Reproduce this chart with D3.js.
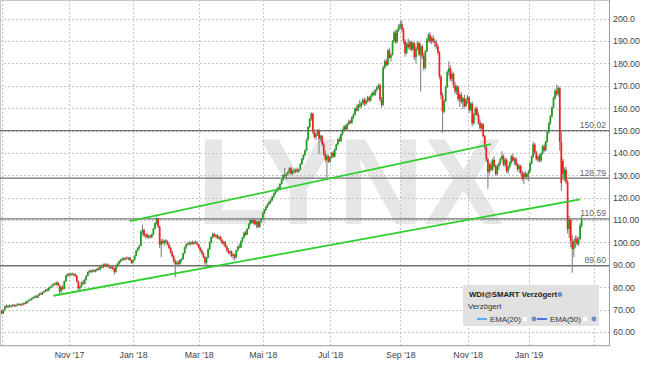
<!DOCTYPE html>
<head>
<meta charset="UTF-8">
<script src="https://d3js.org/d3.v7.min.js"></script>
<style>
  body { margin: 0; background: #fff; }
  text { font-family: "Liberation Sans", Arial, sans-serif; }
</style>
</head>
<body>
<div id="chart"></div>
<script>
// daily candles [open, high, low, close], one per trading day from 2017-09-01
const ohlc = [
  // Sep 2017
  [69.5,70.0,67.8,68.3],[68.4,70.2,68.0,69.8],[70.0,71.8,69.6,71.5],[71.4,72.3,70.8,71.2],[71.2,72.0,70.6,71.8],
  [71.8,72.4,71.0,71.3],[71.3,72.0,70.9,71.7],[71.7,72.5,71.2,72.1],[72.0,72.6,71.3,71.6],[71.6,72.3,71.1,72.0],
  [72.0,72.8,71.6,72.4],[72.4,72.9,71.8,72.1],[72.1,72.7,71.5,72.5],[72.4,73.0,72.0,72.3],[72.3,73.2,72.0,73.0],
  [73.0,73.6,72.4,72.8],[72.8,74.0,72.5,73.8],[73.8,74.5,73.2,74.2],[74.2,75.0,73.8,74.6],[74.6,75.3,74.0,74.9],
  [74.9,75.8,74.5,75.5],
  // Oct 2017
  [75.5,76.3,75.0,75.9],[75.9,76.5,75.2,75.4],[75.4,76.6,75.1,76.3],[76.3,77.4,76.0,77.1],[77.1,77.8,76.5,76.8],
  [76.8,78.0,76.5,77.8],[77.8,78.6,77.2,78.3],[78.3,79.2,77.9,78.9],[78.9,79.5,78.0,78.5],[78.5,80.0,78.2,79.7],
  [79.7,80.6,79.2,80.3],[80.3,81.2,79.8,80.9],[80.9,81.8,80.4,81.5],[81.5,82.3,80.9,81.2],[81.2,82.5,80.8,82.1],
  [82.1,82.6,80.5,80.9],[80.9,81.2,77.0,78.2],[78.2,80.5,77.5,80.0],[80.0,81.0,78.8,79.2],[79.2,83.0,79.0,82.6],
  [82.6,85.5,82.3,85.2],[85.2,86.3,84.6,85.8],
  // Nov 2017
  [85.8,86.5,85.0,85.4],[85.4,86.4,84.9,86.0],[86.0,86.7,85.2,85.6],[85.6,86.2,84.8,85.9],[85.9,86.4,84.6,85.1],
  [85.1,85.5,82.0,82.6],[82.6,83.0,78.8,79.5],[79.5,80.8,78.5,80.4],[80.4,82.5,80.0,82.2],[82.2,83.2,81.0,81.6],
  [81.6,83.8,81.3,83.4],[83.4,85.4,83.0,85.1],[85.1,87.0,84.8,86.8],[86.8,87.8,86.0,87.3],[87.3,88.0,86.4,86.9],
  [86.9,87.9,86.5,87.6],[87.6,88.2,86.8,87.1],[87.1,88.0,86.6,87.7],[87.7,88.6,87.2,88.3],[88.3,89.0,87.5,87.9],
  [87.9,89.6,87.6,89.3],[89.3,90.2,88.6,89.0],
  // Dec 2017
  [89.0,90.6,88.5,90.2],[90.2,90.8,89.0,89.4],[89.4,90.5,88.8,90.1],[90.1,90.7,88.9,89.2],[89.2,90.0,88.2,88.6],
  [88.6,89.5,87.9,89.1],[89.1,89.6,87.8,88.2],[88.2,88.8,85.6,86.9],[86.9,89.5,86.5,89.2],[89.2,90.8,88.8,90.5],
  [90.5,92.0,90.1,91.6],[91.6,92.6,91.0,92.3],[92.3,93.2,91.6,92.8],[92.8,93.5,92.0,92.4],[92.4,93.4,91.9,93.1],
  [93.1,93.8,92.5,92.7],[92.7,93.5,92.2,93.2],[93.2,93.6,91.8,92.0],[92.0,92.4,90.4,90.9],
  // Jan 2018
  [91.0,92.5,90.5,92.2],[92.2,94.5,92.0,94.1],[94.1,96.8,93.8,96.5],[96.5,98.0,95.9,97.6],[97.6,99.0,97.0,98.6],
  [98.6,105.5,98.3,104.8],[104.8,108.0,103.5,105.6],[105.6,106.3,102.4,103.1],[103.1,104.0,101.8,103.5],[103.5,104.2,101.9,102.3],
  [102.3,103.5,101.6,103.0],[103.0,103.6,101.8,102.4],[102.4,104.0,102.0,103.6],[103.6,106.5,103.2,106.2],[106.2,109.0,105.8,108.6],
  [108.6,111.5,108.0,110.8],[110.8,111.0,106.5,107.2],[107.2,107.6,97.5,99.0],[99.0,101.5,93.4,100.6],[100.6,101.8,99.2,99.8],
  [99.8,101.2,98.5,100.9],[100.9,101.5,99.3,100.2],
  // Feb 2018
  [100.2,101.0,98.6,99.1],[99.1,100.0,97.0,97.6],[97.6,98.2,95.0,95.5],[95.5,96.5,93.2,93.8],[93.8,94.5,91.0,91.6],
  [91.6,92.5,84.5,90.3],[90.3,92.0,89.5,91.0],[91.0,91.8,89.6,90.4],[90.4,92.6,90.0,92.2],[92.2,93.0,91.2,92.6],
  [92.6,95.5,92.3,95.2],[95.2,98.2,94.8,97.9],[97.9,99.6,97.2,99.2],[99.2,100.3,98.5,99.6],[99.6,100.6,98.8,99.3],
  [99.3,100.4,98.7,100.1],[100.1,100.8,99.0,99.5],[99.5,100.6,98.9,100.2],[100.2,100.9,99.4,99.8],[99.8,100.5,98.6,99.0],
  // Mar 2018
  [99.0,99.6,97.2,97.6],[97.6,98.2,95.8,96.3],[96.3,97.0,94.5,95.0],[95.0,95.6,92.8,93.4],[93.4,94.0,90.2,91.0],
  [91.0,93.6,88.8,93.2],[93.2,97.5,93.0,97.0],[97.0,100.5,96.6,100.1],[100.1,102.8,99.6,102.4],[102.4,104.5,101.8,103.8],
  [103.8,104.3,102.2,102.7],[102.7,103.8,101.9,103.2],[103.2,103.7,101.5,101.9],[101.9,103.0,101.2,102.5],[102.5,103.0,100.5,101.0],
  [101.0,101.8,99.2,99.6],[99.6,100.8,98.6,100.3],[100.3,100.7,97.6,98.1],[98.1,99.0,96.0,96.5],[96.5,97.5,94.8,95.3],
  [95.3,96.4,94.2,96.0],
  // Apr 2018
  [96.0,96.5,93.4,94.0],[94.0,95.2,92.6,94.6],[94.6,95.0,91.8,93.3],[93.3,96.8,93.0,96.4],[96.4,98.6,96.0,98.2],
  [98.2,99.5,97.3,97.8],[97.8,101.0,97.5,100.6],[100.6,102.6,100.0,102.2],[102.2,104.8,101.8,104.4],[104.4,105.2,103.0,103.6],
  [103.6,106.5,103.2,106.1],[106.1,108.7,105.8,108.3],[108.3,110.6,107.8,110.0],[110.0,110.8,108.4,108.9],[108.9,110.5,108.2,109.9],
  [109.9,110.4,107.6,108.1],[108.1,109.6,106.4,109.2],[109.2,110.0,106.5,107.0],[107.0,109.8,106.6,109.5],[109.5,111.0,108.8,110.6],
  // May 2018
  [110.6,113.5,110.2,113.1],[113.1,115.0,112.6,114.6],[114.6,116.4,114.0,116.0],[116.0,117.5,115.4,117.1],[117.1,118.6,116.5,118.2],
  [118.2,119.4,117.3,118.9],[118.9,120.8,118.4,120.4],[120.4,122.2,119.8,121.9],[121.9,123.4,121.2,122.8],[122.8,124.6,122.3,124.2],
  [124.2,125.0,122.9,123.5],[123.5,126.6,123.2,126.2],[126.2,128.4,125.8,128.0],[128.0,130.5,127.5,130.1],[130.1,133.4,129.0,129.6],
  [129.6,131.0,128.2,130.6],[130.6,132.0,129.8,131.5],[131.5,133.6,131.0,133.2],[133.2,134.0,130.0,130.7],[130.7,132.5,130.2,132.0],
  [132.0,133.2,131.0,131.6],[131.6,133.0,130.8,132.6],
  // Jun 2018
  [132.6,133.5,131.2,131.8],[131.8,133.0,131.0,132.5],[132.5,135.5,132.2,135.0],[135.0,137.8,134.6,137.4],[137.4,139.5,136.8,139.1],
  [139.1,141.6,138.5,141.2],[141.2,146.5,140.8,146.0],[146.0,152.0,145.6,151.6],[151.6,155.6,151.0,155.2],[155.2,158.2,154.4,157.6],
  [157.6,158.0,148.5,149.4],[149.4,150.6,146.5,147.2],[147.2,149.0,145.8,148.5],[148.5,150.6,147.6,150.1],[150.1,150.8,139.5,146.4],
  [146.4,148.2,145.0,147.5],[147.5,148.0,143.0,143.8],[143.8,145.0,138.6,139.4],[139.4,141.2,136.0,137.0],[137.0,139.8,128.8,138.6],
  [138.6,139.2,135.6,136.2],
  // Jul 2018
  [136.2,138.5,135.4,138.0],[138.0,140.4,137.5,140.1],[140.1,141.0,137.8,138.4],[138.4,142.0,138.0,141.6],[141.6,144.2,141.0,143.8],
  [143.8,146.5,143.2,146.1],[146.1,147.2,144.8,145.3],[145.3,148.8,145.0,148.4],[148.4,150.8,147.8,150.3],[150.3,152.4,149.6,151.9],
  [151.9,152.6,150.0,150.6],[150.6,153.4,150.2,153.0],[153.0,154.8,152.4,154.2],[154.2,155.0,152.8,153.5],[153.5,156.4,153.0,156.0],
  [156.0,157.8,155.2,157.2],[157.2,160.4,156.8,159.8],[159.8,161.2,158.5,159.0],[159.0,162.0,158.6,161.6],[161.6,163.8,160.2,160.8],
  [160.8,163.0,160.0,162.5],[162.5,164.5,161.4,163.8],
  // Aug 2018
  [163.8,164.8,161.0,162.0],[162.0,164.0,161.2,163.4],[163.4,165.6,162.5,164.8],[164.8,165.4,162.8,163.5],[163.5,166.0,163.0,165.6],
  [165.6,167.4,165.0,166.8],[166.8,168.0,165.4,166.0],[166.0,168.6,165.6,168.2],[168.2,170.0,167.4,169.4],[169.4,171.0,168.6,170.2],
  [170.2,171.2,163.0,164.0],[164.0,165.0,160.2,161.5],[161.5,179.0,161.0,178.2],[178.2,181.8,177.5,180.9],[180.9,182.0,178.6,179.4],
  [179.4,186.5,179.0,185.8],[185.8,187.0,182.0,182.6],[182.6,184.5,181.0,183.9],[183.9,190.5,183.5,190.0],[190.0,194.6,189.4,193.8],
  [193.8,194.8,188.8,189.5],[189.5,195.5,189.0,195.0],[195.0,197.6,194.2,196.8],
  // Sep 2018
  [196.8,199.0,195.5,197.5],[197.5,199.2,194.0,195.2],[195.2,196.0,188.6,190.0],[190.0,190.8,183.0,184.6],[184.6,189.5,184.0,188.8],
  [188.8,191.2,186.5,187.2],[187.2,190.4,186.0,189.6],[189.6,190.2,185.4,186.2],[186.2,189.8,185.8,189.0],[189.0,189.6,181.5,182.8],
  [182.8,187.4,180.0,186.5],[186.5,190.0,185.8,189.2],[189.2,189.8,183.2,184.0],[184.0,188.8,167.5,187.6],[187.6,188.4,182.0,183.2],
  [183.2,184.6,176.8,178.0],[178.0,186.0,177.4,185.4],[185.4,191.5,185.0,190.8],[190.8,193.6,189.6,192.8],[192.8,194.0,189.0,189.8],
  // Oct 2018
  [189.8,192.0,188.6,191.4],[191.4,192.6,189.2,190.0],[190.0,191.0,187.2,189.2],[189.2,190.4,186.5,187.6],[187.6,188.8,184.0,185.0],
  [185.0,185.6,173.0,174.2],[174.2,175.0,164.0,165.8],[165.8,167.0,149.0,158.5],[158.5,164.0,157.6,163.2],[163.2,170.0,162.8,169.4],
  [169.4,177.0,169.0,176.2],[176.2,181.0,174.6,177.8],[177.8,179.2,172.0,173.0],[173.0,176.4,171.8,175.4],[175.4,176.0,169.0,170.2],
  [170.2,171.8,166.4,167.5],[167.5,170.4,166.0,169.6],[169.6,170.2,163.0,164.0],[164.0,166.8,160.5,166.0],[166.0,167.2,162.0,162.8],
  [162.8,165.0,159.6,164.4],[164.4,166.0,160.2,161.0],[161.0,164.6,160.6,163.8],
  // Nov 2018
  [163.8,166.0,162.0,164.8],[164.8,165.5,158.0,159.2],[159.2,162.8,158.6,162.0],[162.0,163.0,151.8,153.2],[153.2,158.0,152.6,157.4],
  [157.4,160.5,156.8,159.8],[159.8,161.0,156.2,157.0],[157.0,158.2,152.6,153.4],[153.4,155.0,150.0,151.2],[151.2,153.6,150.4,152.8],
  [152.8,153.4,146.8,147.6],[147.6,148.2,141.5,142.6],[142.6,143.8,136.0,137.2],[137.2,138.0,124.0,131.5],[131.5,135.6,130.5,134.8],
  [134.8,136.4,131.8,132.6],[132.6,137.5,132.0,136.9],[136.9,138.6,133.5,134.2],[134.2,135.0,129.8,130.6],[130.6,134.8,130.0,134.0],
  [134.0,136.0,132.4,135.2],[135.2,138.0,134.6,137.4],
  // Dec 2018
  [137.4,140.8,136.6,138.6],[138.6,139.4,134.0,134.8],[134.8,137.8,133.6,137.0],[137.0,137.6,131.0,131.8],[131.8,134.5,130.6,133.9],
  [133.9,136.4,133.0,135.8],[135.8,139.2,135.0,138.4],[138.4,139.6,136.0,136.6],[136.6,138.0,134.6,137.4],[137.4,138.2,134.0,134.8],
  [134.8,135.6,132.0,132.8],[132.8,135.0,131.2,134.2],[134.2,134.8,130.4,131.0],[131.0,132.2,127.6,128.4],[128.4,131.6,126.0,130.8],
  [130.8,132.0,128.6,129.4],[129.4,131.2,128.0,130.6],
  // Jan 2019
  [130.6,132.4,127.6,131.8],[131.8,136.0,131.2,135.4],[135.4,139.0,134.8,138.2],[138.2,145.0,137.6,143.8],[143.8,144.6,139.4,140.2],
  [140.2,141.0,136.6,137.2],[137.2,139.0,136.0,138.4],[138.4,139.6,135.8,136.6],[136.6,140.2,136.0,139.8],[139.8,143.6,139.2,143.0],
  [143.0,144.2,140.4,141.2],[141.2,145.6,140.8,145.0],[145.0,149.8,144.6,149.2],[149.2,153.8,148.6,153.2],[153.2,157.0,152.6,156.4],
  [156.4,161.0,155.8,160.4],[160.4,165.2,159.8,164.6],[164.6,168.6,163.8,167.8],[167.8,170.6,165.6,166.4],[166.4,170.0,165.2,169.0],
  [169.0,169.6,141.0,145.0],[145.0,150.4,123.0,126.5],
  // Feb 2019
  [136.5,137.5,128.0,130.5],[129.0,133.5,127.5,132.4],[132.4,134.0,126.0,127.0],[127.0,128.0,104.0,106.0],[106.0,112.0,102.0,110.5],
  [110.0,110.8,98.0,100.5],[100.5,103.5,86.5,97.2],[97.0,101.5,93.5,100.6],[100.6,103.0,97.6,101.8],[101.8,103.0,98.6,99.4],
  [99.4,102.4,98.4,101.2],[101.5,108.6,101.0,107.6],[107.4,112.0,106.6,110.6]
];

const firstDay = "2017-09-01";
const lastAxisDay = "2019-03-29";
const holidays = ["2017-12-25", "2017-12-26", "2018-01-01", "2018-03-30", "2018-04-02", "2018-05-01",
  "2018-12-24", "2018-12-25", "2018-12-26", "2018-12-31", "2019-01-01"];
const monthNames = ["Jan", "Feb", "Mar", "Apr", "Mai", "Jun", "Jul", "Aug", "Sep", "Okt", "Nov", "Dez"];
const yTicks = [60, 70, 80, 90, 100, 110, 120, 130, 140, 150, 160, 170, 180, 190, 200];
const levels = [150.02, 128.79, 110.59, 89.60];
// trend lines: [date, price] start and end
const trendLines = [
  [["2017-12-28", 109.6], ["2018-11-22", 144.0]],
  [["2017-10-18", 76.2], ["2019-02-18", 119.3]]
];
const legendTitle = "WDI@SMART Verzögert";
const legendSub = "Verzögert";
const legendItems = [{ name: "EMA(20)", color: "#2196f3" }, { name: "EMA(50)", color: "#1a3fd6" }];

const width = 645, height = 365;
const plotR = 609, plotB = 345.7;

const parse = d3.utcParse("%Y-%m-%d");
const fmt = d3.utcFormat("%Y-%m-%d");
const hol = new Set(holidays);
const days = d3.utcDays(parse(firstDay), d3.utcDay.offset(parse(lastAxisDay), 1))
  .filter(d => d.getUTCDay() % 6 !== 0 && !hol.has(fmt(d)));
const dayIndex = new Map(days.map((d, i) => [fmt(d), i]));

const x = d3.scaleLinear().domain([-1.15, 388.5]).range([0, plotR]);
const y = d3.scaleLinear().domain([53.88, 208.36]).range([plotB, 0]);

const svg = d3.select("#chart").append("svg")
  .attr("width", width)
  .attr("height", height)
  .style("display", "block");

// watermark
svg.append("text")
  .attr("x", 197).attr("y", 224)
  .attr("textLength", 306).attr("lengthAdjust", "spacingAndGlyphs")
  .attr("font-size", 122).attr("font-weight", "bold")
  .attr("fill", "#e6e6e6")
  .text("LYNX");

// month ticks: first trading day of Jan, Mar, May, ...
const monthTicks = days.map((d, i) => i)
  .filter(i => (i === 0 || days[i].getUTCMonth() !== days[i - 1].getUTCMonth()) && days[i].getUTCMonth() % 2 === 0)
  .filter(i => x(i) < plotR);

const grid = svg.append("g").attr("stroke", "#c4c4c4").attr("stroke-dasharray", "2,2").attr("stroke-width", 1);
grid.selectAll(".gy").data(yTicks).join("line")
  .attr("x1", 0).attr("x2", plotR)
  .attr("y1", d => Math.round(y(d)) + 0.5).attr("y2", d => Math.round(y(d)) + 0.5);
grid.selectAll(".gx").data(monthTicks).join("line")
  .attr("y1", 0).attr("y2", plotB)
  .attr("x1", d => Math.round(x(d)) + 0.5).attr("x2", d => Math.round(x(d)) + 0.5);

// frame top / left
svg.append("path").attr("d", `M0.5,${plotB}V0.5H${plotR}`).attr("fill", "none").attr("stroke", "#c8c8c8");

// horizontal levels
const lv = svg.append("g");
lv.selectAll("line").data(levels).join("line")
  .attr("x1", 0).attr("x2", plotR)
  .attr("y1", d => y(d)).attr("y2", d => y(d))
  .attr("stroke", "#707070").attr("stroke-width", 1.3);
lv.selectAll("text").data(levels).join("text")
  .attr("x", 606).attr("y", d => y(d) - 2.5)
  .attr("text-anchor", "end")
  .attr("font-size", 8.6).attr("fill", "#666")
  .text(d => d3.format(".2f")(d));

// candles
const bw = 1.7;
const cg = svg.append("g");
cg.selectAll(".wick").data(ohlc).join("line")
  .attr("x1", (d, i) => x(i)).attr("x2", (d, i) => x(i))
  .attr("y1", d => y(d[1])).attr("y2", d => y(d[2]))
  .attr("stroke", "#858585").attr("stroke-width", 1.1);
cg.selectAll(".body").data(ohlc).join("rect")
  .attr("x", (d, i) => x(i) - bw / 2)
  .attr("width", bw)
  .attr("y", d => y(Math.max(d[0], d[3])))
  .attr("height", d => Math.max(1, Math.abs(y(d[0]) - y(d[3]))))
  .attr("fill", d => d[3] >= d[0] ? "#16a316" : "#ff1c1c");

// trend lines
svg.append("g").selectAll("line").data(trendLines).join("line")
  .attr("x1", d => x(dayIndex.get(d[0][0]))).attr("y1", d => y(d[0][1]))
  .attr("x2", d => x(dayIndex.get(d[1][0]))).attr("y2", d => y(d[1][1]))
  .attr("stroke", "#2ed02e").attr("stroke-width", 1.8);

// axes
const yAxis = svg.append("g")
  .attr("transform", `translate(${plotR + 0.5},0)`)
  .call(d3.axisRight(y).tickValues(yTicks).tickSize(0).tickPadding(3.5)
    .tickFormat(v => v === 200 ? "200.0" : d3.format(".2f")(v)));
yAxis.select(".domain").attr("stroke", "#9a9a9a").attr("d", `M0,0V${plotB}`);
yAxis.selectAll("text").attr("font-size", 8.8).attr("fill", "#444").attr("font-family", null);

const xAxis = svg.append("g")
  .attr("transform", `translate(0,${plotB})`)
  .call(d3.axisBottom(x).tickValues(monthTicks.filter(i => x(i) > 30 && x(i) < 580)).tickSize(0).tickPadding(6)
    .tickFormat(i => monthNames[days[i].getUTCMonth()] + " '" + String(days[i].getUTCFullYear()).slice(2)));
xAxis.select(".domain").attr("stroke", "#9a9a9a").attr("d", `M0,0H${plotR + 0.5}`);
xAxis.selectAll("text").attr("font-size", 8.8).attr("fill", "#444").attr("font-family", null);

// legend
const lg = svg.append("g").attr("transform", "translate(463,285)");
lg.append("rect").attr("width", 136).attr("height", 41).attr("fill", "#e1e1e1");
lg.append("text").attr("x", 6).attr("y", 12).attr("font-size", 7.8).attr("font-weight", "bold").attr("fill", "#222").text(legendTitle);
lg.append("circle").attr("cx", 97).attr("cy", 9.5).attr("r", 2.4).attr("fill", "#6d8fc4");
lg.append("text").attr("x", 5).attr("y", 24).attr("font-size", 7.8).attr("fill", "#333").text(legendSub);
legendItems.forEach((it, k) => {
  const ox = 14 + k * 60;
  lg.append("line").attr("x1", ox).attr("x2", ox + 10).attr("y1", 34).attr("y2", 34).attr("stroke", it.color).attr("stroke-width", 1.4);
  lg.append("text").attr("x", ox + 13).attr("y", 37).attr("font-size", 7.8).attr("fill", "#333").text(it.name);
  lg.append("rect").attr("x", ox + 46).attr("y", 32).attr("width", 4).attr("height", 4).attr("fill", "#fff");
  lg.append("circle").attr("cx", ox + 57).attr("cy", 34).attr("r", 2.4).attr("fill", "#6d8fc4");
});
</script>
</body>
</html>
